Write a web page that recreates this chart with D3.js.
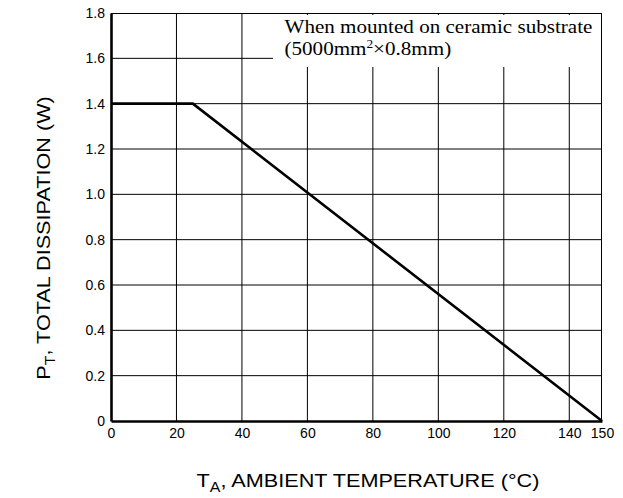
<!DOCTYPE html>
<html>
<head>
<meta charset="utf-8">
<script src="https://cdn.jsdelivr.net/npm/d3@7"></script>
<style>
  body { margin: 0; background: #fff; }
</style>
</head>
<body>
<div id="chart"></div>
<script>
// derating curve data
const tempPoints = [0, 25, 150];      // ambient temperature (°C)
const powerPoints = [1.4, 1.4, 0];    // total dissipation (W)
const xTicks = [0, 20, 40, 60, 80, 100, 120, 140, 150];
const yTicks = [0, 0.2, 0.4, 0.6, 0.8, 1.0, 1.2, 1.4, 1.6, 1.8];
const xGrid = [20, 40, 60, 80, 100, 120, 140];
const yGrid = [0.2, 0.4, 0.6, 0.8, 1.0, 1.2, 1.4, 1.6];

const sans = "'Liberation Sans', Arial, Helvetica, sans-serif";
const serif = "'Liberation Serif', 'Times New Roman', serif";

const width = 623;
const height = 498;
const margin = {top: 13, right: 21, bottom: 77, left: 111};
const plotWidth = width - margin.left - margin.right;
const plotHeight = height - margin.top - margin.bottom;

const svg = d3.select("#chart")
    .append("svg")
    .attr("width", width)
    .attr("height", height);

const g = svg.append("g")
    .attr("transform", `translate(${margin.left},${margin.top})`);

const x = d3.scaleLinear().domain([0, 150]).range([0, plotWidth]);
const y = d3.scaleLinear().domain([0, 1.8]).range([plotHeight, 0]);

// grid lines
g.selectAll(".vgrid")
    .data(xGrid)
    .enter()
    .append("line")
    .attr("x1", d => x(d))
    .attr("x2", d => x(d))
    .attr("y1", 0)
    .attr("y2", plotHeight)
    .attr("stroke", "#000")
    .attr("stroke-width", 1);

g.selectAll(".hgrid")
    .data(yGrid)
    .enter()
    .append("line")
    .attr("x1", 0)
    .attr("x2", plotWidth)
    .attr("y1", d => y(d))
    .attr("y2", d => y(d))
    .attr("stroke", "#000")
    .attr("stroke-width", 1);

// white box behind the note
g.append("rect")
    .attr("x", x(49.5))
    .attr("y", 2)
    .attr("width", plotWidth - x(49.5))
    .attr("height", 52)
    .attr("fill", "#fff");

// top and right border
g.append("line")
    .attr("x1", 0).attr("x2", plotWidth)
    .attr("y1", 0.5).attr("y2", 0.5)
    .attr("stroke", "#000").attr("stroke-width", 1);
g.append("line")
    .attr("x1", plotWidth - 0.5).attr("x2", plotWidth - 0.5)
    .attr("y1", 0).attr("y2", plotHeight)
    .attr("stroke", "#000").attr("stroke-width", 1);

// note text
const noteX = x(53);
g.append("text")
    .attr("transform", `translate(${noteX},20) scale(1.11,1)`)
    .style("font-family", serif)
    .style("font-size", "19px")
    .attr("fill", "#000")
    .text("When mounted on ceramic substrate");
const line2 = g.append("text")
    .attr("transform", `translate(${noteX},42) scale(1.11,1)`)
    .style("font-family", serif)
    .style("font-size", "19px")
    .attr("fill", "#000");
line2.append("tspan").text("(5000mm");
line2.append("tspan").style("font-size", "12px").attr("dy", -7).text("2");
line2.append("tspan").attr("dy", 7).text("×0.8mm)");

// derating curve
const line = d3.line()
    .x(d => x(d[0]))
    .y(d => y(d[1]));

g.append("path")
    .datum(d3.zip(tempPoints, powerPoints))
    .attr("d", line)
    .attr("fill", "none")
    .attr("stroke", "#000")
    .attr("stroke-width", 2.6);

// axes
const xAxis = g.append("g")
    .attr("transform", `translate(0,${plotHeight})`)
    .call(d3.axisBottom(x).tickValues(xTicks).tickSize(0).tickPadding(7).tickFormat(d3.format("d")));
const yAxis = g.append("g")
    .call(d3.axisLeft(y).tickValues(yTicks).tickSize(0).tickPadding(6)
        .tickFormat(d => d === 0 ? "0" : d3.format(".1f")(d)));

[xAxis, yAxis].forEach(a => {
    a.select(".domain").attr("stroke", "#000").attr("stroke-width", 2.6);
    a.selectAll("text")
        .style("font-family", sans)
        .style("font-size", "14px")
        .attr("fill", "#000");
});

// axis titles (stretched a bit to match the wide lettering)
const xTitle = svg.append("text")
    .attr("transform", "translate(368,487) scale(1.14,1)")
    .attr("text-anchor", "middle")
    .style("font-family", sans)
    .style("font-size", "19px")
    .attr("fill", "#000");
xTitle.append("tspan").text("T");
xTitle.append("tspan").style("font-size", "14px").attr("dy", 5).text("A");
xTitle.append("tspan").attr("dy", -5).text(", AMBIENT TEMPERATURE (°C)");

const yTitle = svg.append("text")
    .attr("transform", "translate(50,238) rotate(-90) scale(1.14,1)")
    .attr("text-anchor", "middle")
    .style("font-family", sans)
    .style("font-size", "19px")
    .attr("fill", "#000");
yTitle.append("tspan").text("P");
yTitle.append("tspan").style("font-size", "14px").attr("dy", 5).text("T");
yTitle.append("tspan").attr("dy", -5).text(", TOTAL DISSIPATION (W)");
</script>
</body>
</html>
